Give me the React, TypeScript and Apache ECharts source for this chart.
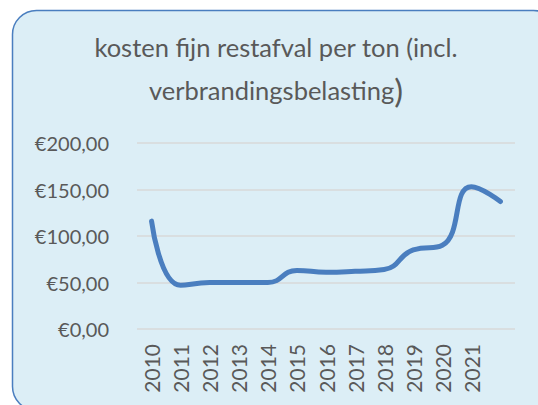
import React, { useEffect, useRef } from "react";
import * as echarts from "echarts";

const years = ["2010", "2011", "2012", "2013", "2014", "2015", "2016", "2017", "2018", "2019", "2020", "2021", ""];
const costs = [116, 47, 50, 50, 50, 63, 61, 62, 64, 85, 90, 153, 137];
const yTicks = { min: 0, max: 200, interval: 50 };
const titleLine1 = "kosten fijn restafval per ton (incl.";
const titleLine2 = "verbrandingsbelasting";

const FONT = "Lato";
const TXT = "#595959";

export default function App() {
  const ref = useRef<HTMLDivElement>(null);
  useEffect(() => {
    if (!ref.current) return;
    const chart = echarts.init(ref.current, null, { renderer: "svg" });
    chart.setOption({
      animation: false,
      backgroundColor: "#ffffff",
      graphic: [
        {
          type: "rect",
          z: -10,
          shape: { x: 12.5, y: 10.5, width: 545, height: 400, r: 24 },
          style: { fill: "#DCEEF6", stroke: "#4A7EBF", lineWidth: 1.5 },
        },
      ],
      title: {
        text: `{a|${titleLine1}}\n{a|${titleLine2}}{b|)}`,
        left: 271,
        top: 20,
        textAlign: "center",
        textStyle: {
          fontWeight: "normal",
          rich: {
            a: { fontFamily: FONT, fontSize: 25.5, fontWeight: "normal", color: TXT, lineHeight: 43 },
            b: { fontFamily: FONT, fontSize: 33, fontWeight: "normal", color: TXT, lineHeight: 43 },
          },
        },
      },
      grid: { left: 137, right: 23, top: 143, bottom: 76, containLabel: false },
      xAxis: {
        type: "category",
        data: years,
        boundaryGap: true,
        axisLine: { show: false },
        axisTick: { show: false },
        axisLabel: {
          rotate: 90,
          interval: 0,
          margin: 15,
          fontFamily: FONT,
          fontSize: 21,
          color: TXT,
        },
      },
      yAxis: {
        type: "value",
        min: yTicks.min,
        max: yTicks.max,
        interval: yTicks.interval,
        axisLine: { show: false },
        axisTick: { show: false },
        splitLine: { lineStyle: { color: "#D9D9D9", width: 1.5 } },
        axisLabel: {
          margin: 28,
          fontFamily: FONT,
          fontSize: 20,
          color: TXT,
          formatter: (v: number) => "€" + v.toFixed(2).replace(".", ","),
        },
      },
      series: [
        {
          type: "line",
          data: costs,
          smooth: 0.5,
          symbol: "none",
          lineStyle: { color: "#4A7EBF", width: 5, cap: "round" },
        },
      ],
    });
    return () => chart.dispose();
  }, []);
  return <div ref={ref} style={{ position: "fixed", left: 0, top: 0, width: 538, height: 405 }} />;
}
